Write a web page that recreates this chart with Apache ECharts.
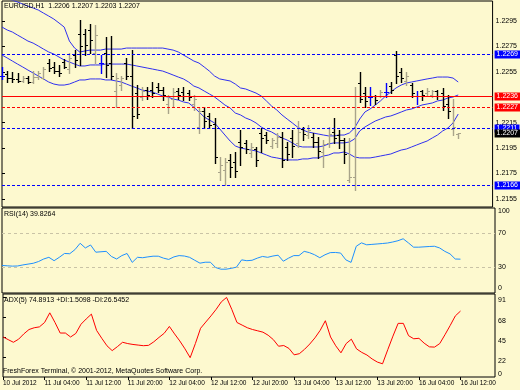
<!DOCTYPE html>
<html>
<head>
<meta charset="utf-8">
<script src="https://cdn.jsdelivr.net/npm/echarts@6/dist/echarts.min.js"></script>
<style>
html,body{margin:0;padding:0;background:#FDF9CF;}
#c{width:520px;height:390px;}
</style>
</head>
<body>
<div id="c"></div>
<script>
// ---- data ----
const tickLabels = ['10 Jul 2012','11 Jul 04:00','11 Jul 12:00','11 Jul 20:00','12 Jul 04:00','12 Jul 12:00','12 Jul 20:00','13 Jul 04:00','13 Jul 12:00','13 Jul 20:00','16 Jul 04:00','16 Jul 12:00'];
const priceTicks = [1.2155, 1.2175, 1.2195, 1.2215, 1.2255, 1.2275, 1.2295];
const levelValues = [1.2269, 1.2236, 1.2227, 1.2211, 1.2166];

const open = [1.2252,1.2253,1.2250,1.2249,1.2248,1.2250,1.2247,1.2251,1.2250,1.2262,
1.2259,1.2256,1.2263,1.2257,1.2268,1.2285,1.2285,1.2288,1.2270,1.2262,
1.2270,1.2262,1.2240,1.2245,1.2262,1.2252,1.2238,1.2235,1.2241,1.2241,
1.2243,1.2241,1.2230,1.2234,1.2240,1.2239,1.2238,1.2230,1.2212,1.2224,
1.2220,1.2214,1.2176,1.2178,1.2186,1.2184,1.2200,1.2199,1.2191,1.2194,
1.2207,1.2205,1.2197,1.2199,1.2204,1.2196,1.2203,1.2199,1.2210,1.2205,
1.2204,1.2200,1.2192,1.2199,1.2208,1.2205,1.2201,1.2170,1.2172,1.2246,
1.2238,1.2235,1.2236,1.2236,1.2239,1.2244,1.2268,1.2255,1.2248,1.2245,
1.2236,1.2240,1.2238,1.2237,1.2240,1.2238,1.2230,1.2210,1.2206];
const high = [1.2259,1.2256,1.2255,1.2254,1.2252,1.2252,1.2256,1.2256,1.2259,1.2265,
1.2263,1.2260,1.2265,1.2270,1.2272,1.2296,1.2289,1.2293,1.2292,1.2268,
1.2282,1.2283,1.2254,1.2252,1.2266,1.2272,1.2245,1.2243,1.2243,1.2247,
1.2246,1.2243,1.2237,1.2242,1.2242,1.2243,1.2241,1.2237,1.2227,1.2227,
1.2223,1.2219,1.2188,1.2187,1.2190,1.2192,1.2209,1.2201,1.2199,1.2196,
1.2211,1.2208,1.2203,1.2207,1.2208,1.2200,1.2209,1.2216,1.2212,1.2213,
1.2207,1.2204,1.2201,1.2212,1.2219,1.2209,1.2203,1.2203,1.2243,1.2255,
1.2243,1.2243,1.2237,1.2241,1.2246,1.2247,1.2271,1.2258,1.2255,1.2246,
1.2240,1.2241,1.2242,1.2241,1.2241,1.2242,1.2237,1.2234,1.2207];
const low = [1.2249,1.2247,1.2247,1.2247,1.2247,1.2246,1.2246,1.2249,1.2249,1.2256,
1.2254,1.2252,1.2258,1.2254,1.2259,1.2260,1.2268,1.2270,1.2262,1.2254,
1.2251,1.2249,1.2227,1.2241,1.2249,1.2211,1.2219,1.2233,1.2234,1.2235,
1.2239,1.2233,1.2223,1.2227,1.2234,1.2233,1.2233,1.2225,1.2207,1.2211,
1.2211,1.2183,1.2170,1.2166,1.2172,1.2172,1.2182,1.2191,1.2188,1.2181,
1.2192,1.2199,1.2195,1.2196,1.2180,1.2186,1.2188,1.2196,1.2201,1.2203,
1.2196,1.2187,1.2180,1.2196,1.2199,1.2195,1.2183,1.2168,1.2162,1.2231,
1.2227,1.2229,1.2230,1.2235,1.2235,1.2238,1.2246,1.2247,1.2245,1.2235,
1.2230,1.2233,1.2237,1.2235,1.2234,1.2225,1.2219,1.2205,1.2203];
const close = [1.2252,1.2250,1.2249,1.2248,1.2250,1.2247,1.2251,1.2254,1.2257,1.2258,
1.2256,1.2254,1.2259,1.2266,1.2264,1.2275,1.2276,1.2280,1.2284,1.2262,
1.2260,1.2252,1.2250,1.2250,1.2252,1.2220,1.2222,1.2240,1.2237,1.2238,
1.2241,1.2237,1.2236,1.2239,1.2237,1.2236,1.2235,1.2234,1.2224,1.2216,
1.2213,1.2188,1.2182,1.2184,1.2180,1.2177,1.2196,1.2194,1.2196,1.2186,
1.2203,1.2201,1.2201,1.2204,1.2186,1.2190,1.2197,1.2208,1.2206,1.2209,
1.2200,1.2193,1.2198,1.2206,1.2203,1.2201,1.2190,1.2172,1.2236,1.2234,
1.2232,1.2235,1.2233,1.2239,1.2239,1.2241,1.2252,1.2250,1.2252,1.2238,
1.2236,1.2237,1.2240,1.2240,1.2236,1.2228,1.2224,1.2212,1.2207];

const bbUpper = [1.23146,1.23122,1.23114,1.23099,1.23083,1.23067,1.23052,1.23036,1.23012,1.22989,
1.22965,1.22934,1.22902,1.22792,1.22737,1.22706,1.22714,1.22721,1.22721,1.22721,
1.22729,1.22729,1.22729,1.22729,1.22737,1.22737,1.22737,1.22737,1.22737,1.22737,
1.22737,1.22737,1.22729,1.22721,1.22706,1.22682,1.22659,1.22635,1.22619,1.22588,
1.22556,1.22517,1.22494,1.22486,1.22478,1.22454,1.22423,1.22415,1.22399,1.22383,
1.22360,1.22321,1.22281,1.22250,1.22211,1.22179,1.22148,1.22116,1.22093,1.22077,
1.22069,1.22061,1.22053,1.22046,1.22046,1.22053,1.22053,1.22069,1.22108,1.22179,
1.22234,1.22258,1.22289,1.22321,1.22360,1.22391,1.22423,1.22446,1.22462,1.22470,
1.22478,1.22486,1.22494,1.22501,1.22509,1.22509,1.22509,1.22501,1.22470];
const bbMiddle = [1.22902,1.22879,1.22863,1.22839,1.22816,1.22792,1.22776,1.22753,1.22729,1.22706,
1.22690,1.22666,1.22643,1.22627,1.22611,1.22596,1.22596,1.22604,1.22604,1.22604,
1.22611,1.22611,1.22611,1.22611,1.22611,1.22604,1.22596,1.22588,1.22580,1.22572,
1.22564,1.22556,1.22541,1.22525,1.22509,1.22494,1.22470,1.22438,1.22423,1.22399,
1.22376,1.22352,1.22321,1.22289,1.22266,1.22226,1.22211,1.22187,1.22171,1.22148,
1.22116,1.22093,1.22077,1.22053,1.22030,1.22014,1.21991,1.21967,1.21959,1.21959,
1.21959,1.21959,1.21967,1.21983,1.21991,1.21991,1.21991,1.21998,1.22022,1.22085,
1.22116,1.22140,1.22163,1.22179,1.22195,1.22203,1.22218,1.22234,1.22250,1.22258,
1.22273,1.22289,1.22297,1.22305,1.22321,1.22328,1.22344,1.22352,1.22368];
const bbLower = [1.22682,1.22659,1.22635,1.22611,1.22588,1.22564,1.22541,1.22517,1.22494,1.22470,
1.22454,1.22446,1.22446,1.22454,1.22470,1.22486,1.22486,1.22494,1.22494,1.22494,
1.22486,1.22486,1.22478,1.22470,1.22454,1.22438,1.22423,1.22407,1.22399,1.22391,
1.22376,1.22360,1.22352,1.22336,1.22328,1.22313,1.22305,1.22273,1.22234,1.22195,
1.22171,1.22148,1.22101,1.22053,1.22006,1.21967,1.21951,1.21943,1.21935,1.21928,
1.21912,1.21896,1.21880,1.21873,1.21865,1.21857,1.21857,1.21857,1.21865,1.21865,
1.21873,1.21873,1.21888,1.21896,1.21912,1.21912,1.21920,1.21904,1.21880,1.21873,
1.21873,1.21873,1.21880,1.21888,1.21896,1.21904,1.21920,1.21935,1.21943,1.21959,
1.21975,1.21991,1.22006,1.22030,1.22053,1.22085,1.22108,1.22148,1.22218];

const rsi = [32.4,32,31.6,31.8,33,34,35,37,40,42,
38,42,46.5,46.2,51,58.5,53,56.5,48,48.5,
49,43,40,44,46.5,36,42,41.5,42.5,43.3,
43.3,41,39.5,42.5,44,43.5,42,38.5,35.1,36.2,
36.2,30,28,28,29,30.4,39,38,38.5,41,
43,42,43.5,44.5,37.4,41,44,44,49,47.5,
45,41.5,45,47.5,47.7,47,39,36,55,59,
56.7,57.2,57.7,58.2,58.8,60,61.5,63.8,59,53.9,
53.9,54.3,54.7,55,53,49,46,40,39.8];
const rsiLevels = [30, 70];

const adx = [45.6,42.5,39.5,43,49,54,56,57,62,73,
62,50,50,45.5,49.5,60,66,71.5,53,44,
35.5,30,34.5,39.5,38,37,36.3,35.6,36,40,
45,49.7,57.5,49,41,32,22,38,55.4,62.5,
69.5,77,85.5,90.5,77,62,59,56,54,52.5,
51,47.5,42.5,35,35.8,32.5,25.2,26.5,31.5,37.5,
44.5,53,64,45.5,35.5,27.5,38,43,32,28,
25,20.5,17,15,31,46.5,61,61,47,43.5,
44,38.5,34.3,34,38,48,58.5,69.5,75];

// ---- chart ----
const FONT = '"Liberation Sans", Arial, sans-serif';
const BULL = '#A9A48A', BEAR = '#000000', DOJI = '#0000FF';
// style per level (index-matched to levelValues), plus the bid label
const levelStyle = [
  {color:'#0000FF', dash:[3,2], bg:'#0000FF'},
  {color:'#FF0000', dash:null,  bg:'#FF0000'},
  {color:'#FF0000', dash:[3,2], bg:'#FF0000'},
  {color:'#0000FF', dash:[3,2], bg:'#0000FF'},
  {color:'#0000FF', dash:[3,2], bg:'#0000FF'}
];
const bidStyle = {color:null, dash:null, bg:'#000000'};

const ohlc = open.map((o, i) => [i, o, high[i], low[i], close[i]]);
const pairs = arr => arr.map((v, i) => [i, v]);
const levelRows = levelValues.map((v, k) => [v, k]).concat([[close[close.length-1], -1]]);
const XMAX = 94.63;

function xAx(gi, showLabels){
  return {
    type:'value', gridIndex:gi, min:0, max:XMAX, interval:8,
    axisLine:{show:false}, splitLine:{show:false},
    axisTick:{show:showLabels, length:3, lineStyle:{color:'#000'}},
    axisLabel:{show:showLabels, showMaxLabel:false, align:'left', margin:3,
      fontSize:6.5, fontFamily:FONT, color:'#000',
      formatter: v => tickLabels[Math.round(v/8)] || ''}
  };
}

const chart = echarts.init(document.getElementById('c'), null, {renderer:'canvas'});
chart.setOption({
  animation:false,
  backgroundColor:'#FDF9CF',
  title:[
    {text:'EURUSD,H1  1.2206 1.2207 1.2203 1.2207', left:4, top:3, padding:0,
      textStyle:{fontSize:7, fontWeight:'normal', color:'#000', fontFamily:FONT}},
    {text:'RSI(14) 39.8264', left:4, top:211, padding:0,
      textStyle:{fontSize:7, fontWeight:'normal', color:'#000', fontFamily:FONT}},
    {text:'ADX(5) 74.8913 +DI:1.5098 -DI:26.5452', left:4, top:297, padding:0,
      textStyle:{fontSize:7, fontWeight:'normal', color:'#000', fontFamily:FONT}},
    {text:'FreshForex Terminal, \u00A9 2001-2012, MetaQuotes Software Corp.', left:3, top:368, padding:0,
      textStyle:{fontSize:7, fontWeight:'normal', color:'#000', fontFamily:FONT}}
  ],
  grid:[
    {left:2, top:1, width:493, height:206, show:true, borderColor:'#000', borderWidth:1, backgroundColor:'transparent'},
    {left:2, top:208, width:493, height:85, show:true, borderColor:'#000', borderWidth:1, backgroundColor:'transparent'},
    {left:2, top:294, width:493, height:83, show:true, borderColor:'#000', borderWidth:1, backgroundColor:'transparent'}
  ],
  xAxis:[xAx(0,false), xAx(1,false), xAx(2,true)],
  yAxis:[
    {type:'value', gridIndex:0, position:'right', min:1.21487, max:1.23107,
      axisLine:{show:false}, splitLine:{show:false},
      axisTick:{show:true, length:3, customValues:priceTicks, lineStyle:{color:'#000'}},
      axisLabel:{customValues:priceTicks, margin:3, fontSize:7, fontFamily:FONT, color:'#000',
        formatter: v => v.toFixed(4)}},
    {type:'value', gridIndex:1, position:'right', min:0, max:100,
      axisLine:{show:false}, splitLine:{show:false},
      axisTick:{show:true, length:3, customValues:[30,70], lineStyle:{color:'#000'}},
      axisLabel:{customValues:[5.5,30,70,96.5], margin:3, fontSize:7, fontFamily:FONT, color:'#000',
        formatter: v => v > 90 ? '100' : (v < 10 ? '0' : String(v))}},
    {type:'value', gridIndex:2, position:'right', min:0, max:94.4,
      axisLine:{show:false}, splitLine:{show:false},
      axisTick:{show:true, length:3, customValues:[22,45,68,91], lineStyle:{color:'#000'}},
      axisLabel:{customValues:[7.5,22,45,68,91], margin:3, fontSize:7, fontFamily:FONT, color:'#000',
        verticalAlign:'top',
        formatter: v => v < 10 ? '0' : String(v)}}
  ],
  series:[
    {type:'line', xAxisIndex:0, yAxisIndex:0, data:pairs(bbUpper), symbol:'none',
      lineStyle:{color:'#3030F0', width:1}, z:2},
    {type:'line', xAxisIndex:0, yAxisIndex:0, data:pairs(bbMiddle), symbol:'none',
      lineStyle:{color:'#3030F0', width:1}, z:2},
    {type:'line', xAxisIndex:0, yAxisIndex:0, data:pairs(bbLower), symbol:'none',
      lineStyle:{color:'#3030F0', width:1}, z:2},
    // horizontal levels with their right-side price boxes
    {type:'custom', xAxisIndex:0, yAxisIndex:0, data:levelRows, z:4, clip:false,
      encode:{y:0},
      renderItem:function(params, api){
        const v = api.value(0), k = api.value(1);
        const st = k >= 0 ? levelStyle[k] : bidStyle;
        const cs = params.coordSys;
        const y = Math.round(api.coord([0, v])[1]) + 0.5;
        const kids = [];
        if (st.color){
          kids.push({type:'line', shape:{x1:cs.x, y1:y, x2:cs.x+cs.width, y2:y},
            style:{stroke:st.color, lineWidth:1, lineDash:st.dash || null}});
        }
        kids.push({type:'text', x:cs.x+cs.width+2, y:y,
          style:{text:v.toFixed(4), fill:'#fff', backgroundColor:st.bg, padding:[1,2,0,2],
            font:'7px ' + FONT, align:'left', verticalAlign:'middle'}});
        return {type:'group', children:kids};
      }},
    {type:'custom', xAxisIndex:0, yAxisIndex:0, data:ohlc, z:3,
      encode:{x:0, y:[1,2,3,4]},
      renderItem:function(params, api){
        const i = api.value(0), o = api.value(1), h = api.value(2), l = api.value(3), c = api.value(4);
        const ph = api.coord([i,h]), pl = api.coord([i,l]), po = api.coord([i,o]), pc = api.coord([i,c]);
        const col = c > o ? BULL : (c < o ? BEAR : DOJI);
        const x = Math.round(ph[0]) + 0.5;
        const yo = Math.round(po[1]) + 0.5, yc = Math.round(pc[1]) + 0.5;
        return {type:'group', children:[
          {type:'line', shape:{x1:x, y1:Math.round(ph[1]), x2:x, y2:Math.round(pl[1])+1}, style:{stroke:col, lineWidth:1.4}},
          {type:'line', shape:{x1:x-2.5, y1:yo, x2:x, y2:yo}, style:{stroke:col, lineWidth:1}},
          {type:'line', shape:{x1:x, y1:yc, x2:x+2.5, y2:yc}, style:{stroke:col, lineWidth:1}}
        ]};
      }},
    {type:'line', xAxisIndex:1, yAxisIndex:1, data:pairs(rsi), symbol:'none',
      lineStyle:{color:'#1E90FF', width:1},
      markLine:{silent:true, symbol:['none','none'], animation:false, label:{show:false},
        lineStyle:{color:'#C9C3A6', type:[3,3], width:1},
        data:rsiLevels.map(v => ({yAxis:v}))}},
    {type:'line', xAxisIndex:2, yAxisIndex:2, data:pairs(adx), symbol:'none',
      lineStyle:{color:'#FF0000', width:1}}
  ]
});
</script>
</body>
</html>
